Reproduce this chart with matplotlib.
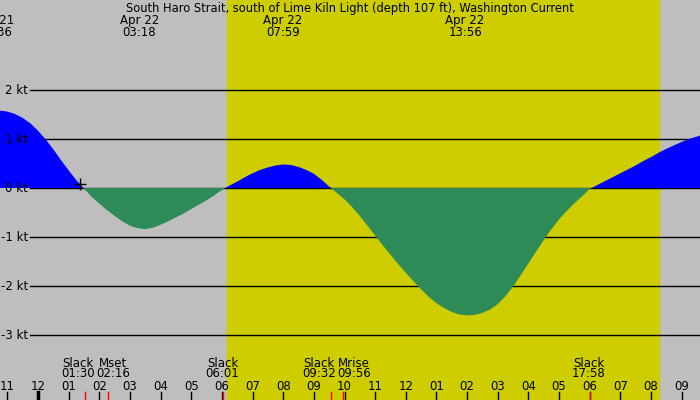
import matplotlib
matplotlib.use("Agg")
import matplotlib.pyplot as plt
import matplotlib.transforms as mtransforms
import numpy as np

# current speed (kt) every quarter hour, hours from Apr 22 00:00
hours = [-1.5, -1.25, -1.0, -0.75, -0.5, -0.25, 0.0, 0.25, 0.5, 0.75, 1.0, 1.25,
         1.5, 1.75, 2.0, 2.25, 2.5, 2.75, 3.0, 3.25, 3.5, 3.75, 4.0, 4.25,
         4.5, 4.75, 5.0, 5.25, 5.5, 5.75, 6.0, 6.25, 6.5, 6.75, 7.0, 7.25,
         7.5, 7.75, 8.0, 8.25, 8.5, 8.75, 9.0, 9.25, 9.5, 9.75, 10.0, 10.25,
         10.5, 10.75, 11.0, 11.25, 11.5, 11.75, 12.0, 12.25, 12.5, 12.75, 13.0, 13.25,
         13.5, 13.75, 14.0, 14.25, 14.5, 14.75, 15.0, 15.25, 15.5, 15.75, 16.0, 16.25,
         16.5, 16.75, 17.0, 17.25, 17.5, 17.75, 18.0, 18.25, 18.5, 18.75, 19.0, 19.25,
         19.5, 19.75, 20.0, 20.25, 20.5, 20.75, 21.0, 21.25, 21.5, 21.75, 22.0]
speeds = [1.59, 1.58, 1.56, 1.51, 1.43, 1.32, 1.17, 0.99, 0.79, 0.57, 0.36, 0.16,
          -0.01, -0.18, -0.32, -0.45, -0.57, -0.68, -0.77, -0.82, -0.84, -0.81, -0.75, -0.68,
          -0.60, -0.52, -0.43, -0.34, -0.25, -0.15, -0.04, 0.05, 0.13, 0.22, 0.30, 0.37,
          0.42, 0.46, 0.48, 0.47, 0.43, 0.37, 0.29, 0.17, 0.03, -0.10, -0.23, -0.39,
          -0.57, -0.77, -0.97, -1.17, -1.36, -1.55, -1.73, -1.90, -2.07, -2.22, -2.35, -2.45,
          -2.53, -2.58, -2.60, -2.59, -2.55, -2.48, -2.37, -2.21, -2.01, -1.78, -1.54, -1.30,
          -1.06, -0.84, -0.64, -0.47, -0.31, -0.17, -0.02, 0.06, 0.14, 0.22, 0.30, 0.38,
          0.46, 0.55, 0.63, 0.72, 0.80, 0.87, 0.94, 1.00, 1.05, 1.10, 1.14]

# max current labels along the top
peak_days = [21, 22, 22, 22]
peak_times = ["22:36", "03:18", "07:59", "13:56"]

# slack / moon events along the bottom
event_names = ["Slack", "Mset", "Slack", "Slack", "Mrise", "Slack"]
event_times = ["01:30", "02:16", "06:01", "09:32", "09:56", "17:58"]

sunrise = "06:10"
sunset = "20:16"

now_mark = (1.37, 0.08)

kt_levels = [2, 1, 0, -1, -2, -3]
kt_labels = ["2 kt", "1 kt", "0 kt", "-1 kt", "-2 kt", "-3 kt"]

hour_ticks = list(range(-1, 22))
hour_labels = ["11", "12", "01", "02", "03", "04", "05", "06", "07", "08", "09", "10",
               "11", "12", "01", "02", "03", "04", "05", "06", "07", "08", "09"]

title = "South Haro Strait, south of Lime Kiln Light (depth 107 ft), Washington Current"


def to_hours(t, day=22):
    hh, mm = t.split(":")
    return (day - 22) * 24 + int(hh) + int(mm) / 60


def fy(px):
    # pixel row from the top -> axes fraction
    return 1 - px / 400


GRAY = "#bebebe"
YELLOW = "#cdcd00"
BLUE = "#0000ff"
GREEN = "#2e8b57"

plt.rcParams["font.family"] = "DejaVu Sans"
fs = 8.5

fig = plt.figure(figsize=(7, 4), dpi=100)
ax = fig.add_axes([0, 0, 1, 1])
ax.set_facecolor(GRAY)

# pixel mapping: x = 38 + 30.65*h, y = 188 - 49*v
x0, xscale = 38.0, 30.65
ax.set_xlim((0 - x0) / xscale, (700 - x0) / xscale)
ax.set_ylim((188 - 400) / 49, 188 / 49)
ax.axis("off")

ax.axvspan(to_hours(sunrise), to_hours(sunset), color=YELLOW, zorder=0)

grid_start = (30 - x0) / xscale
for lv in kt_levels:
    ax.plot([grid_start, 30], [lv, lv], color="black", lw=1, zorder=1)

h = np.array(hours)
v = np.array(speeds)
ax.fill_between(h, 0, v, where=v >= 0, interpolate=True, color=BLUE, lw=0, zorder=2)
ax.fill_between(h, 0, v, where=v <= 0, interpolate=True, color=GREEN, lw=0, zorder=2)

ax.plot(*now_mark, marker="+", color="black", ms=8, mew=1, zorder=4)

ybl = mtransforms.blended_transform_factory(ax.transAxes, ax.transData)
for lv, lab in zip(kt_levels, kt_labels):
    ax.text(28 / 700, lv - 4 / 49, lab, transform=ybl, ha="right", va="baseline",
            fontsize=fs, zorder=5)

xbl = mtransforms.blended_transform_factory(ax.transData, ax.transAxes)

ax.text(0.5, fy(11.7), title, transform=ax.transAxes, ha="center", va="baseline",
        fontsize=8.3)

for d, t in zip(peak_days, peak_times):
    ph = to_hours(t, d)
    ax.text(ph, fy(24.3), f"Apr {d}", transform=xbl, ha="center", va="baseline", fontsize=fs)
    ax.text(ph, fy(36), t, transform=xbl, ha="center", va="baseline", fontsize=fs)

# push crowded event labels apart
ev_h = [to_hours(t) for t in event_times]
lab_x = list(ev_h)
min_gap = 35 / xscale
for i in range(1, len(lab_x)):
    d = lab_x[i] - lab_x[i - 1]
    if d < min_gap:
        shift = (min_gap - d) / 2
        lab_x[i - 1] -= shift
        lab_x[i] += shift

for name, t, lx, eh in zip(event_names, event_times, lab_x, ev_h):
    ax.text(lx, fy(366.7), name, transform=xbl, ha="center", va="baseline", fontsize=fs)
    ax.text(lx, fy(377.3), t, transform=xbl, ha="center", va="baseline", fontsize=fs)
    ax.plot([eh + 1 / xscale, eh + 1 / xscale], [0, 0.02], transform=xbl,
            color="red", lw=1, zorder=6)

for hr, lab in zip(hour_ticks, hour_labels):
    ax.text(hr, fy(390), lab, transform=xbl, ha="center", va="baseline", fontsize=fs)
    ax.plot([hr, hr], [0, 0.02], transform=xbl, color="black",
            lw=2.5 if hr == 0 else 1, zorder=5)

fig.savefig("out.png", dpi=100, facecolor=GRAY)
